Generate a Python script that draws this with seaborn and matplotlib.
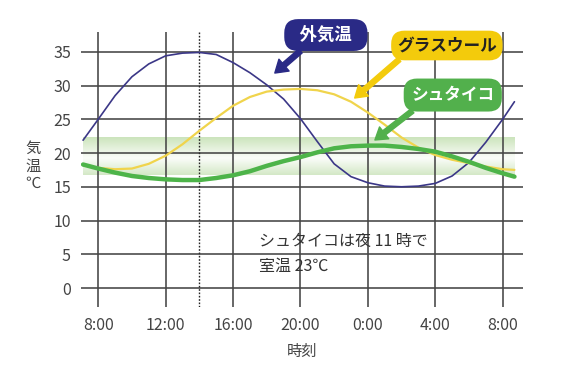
import numpy as np
import pandas as pd
import matplotlib.pyplot as plt
import seaborn as sns

# hours since 0:00 of day 1 (24 = midnight)
hours = [7.1, 8, 9, 10, 11, 12, 13, 14, 15, 16, 17, 18, 19, 20,
         21, 22, 23, 24, 25, 26, 27, 28, 29, 30, 31, 32, 32.7]

outdoor = [21.9, 25.0, 28.5, 31.3, 33.2, 34.4, 34.8, 34.9, 34.6, 33.4, 31.9, 30.1, 28.0, 25.1,
           21.7, 18.4, 16.5, 15.6, 15.1, 15.0, 15.1, 15.5, 16.6, 18.6, 21.6, 25.0, 27.6]
glasswool = [18.2, 17.8, 17.6, 17.7, 18.4, 19.6, 21.3, 23.3, 25.2, 27.0, 28.3, 29.1, 29.4, 29.5,
             29.3, 28.7, 27.6, 26.0, 24.2, 22.3, 20.8, 19.7, 19.0, 18.5, 18.0, 17.6, 17.5]
shutaiko = [18.3, 17.7, 17.1, 16.6, 16.3, 16.1, 16.0, 16.0, 16.3, 16.7, 17.3, 18.1, 18.8, 19.4,
            20.1, 20.7, 21.0, 21.1, 21.1, 20.9, 20.6, 20.2, 19.5, 18.7, 17.8, 17.0, 16.5]

xticks = [8, 12, 16, 20, 24, 28, 32]
xticklabels = ['8:00', '12:00', '16:00', '20:00', '0:00', '4:00', '8:00']
yticks = [0, 5, 10, 15, 20, 25, 30, 35]

comfort_low, comfort_high = 16.7, 22.3   # green band
marker_hour = 14                          # dotted line

navy = '#3b3787'
yellow = '#f0d44c'
green = '#4db449'

sns.set_theme(style='white')
plt.rcParams['font.family'] = ['Noto Sans CJK JP', 'DejaVu Sans']

fig = plt.figure(figsize=(5.64, 3.77), dpi=100)
ax = fig.add_axes([80.7 / 564, 70 / 377, 442 / 564, 275 / 377])

# gradient band: greener at top and bottom edges, pale in between
prof = np.concatenate([np.linspace(0.38, 0.04, 45), np.linspace(0.04, 0.45, 55)])  # bottom -> top
rgba = np.zeros((len(prof), 1, 4))
rgba[:, 0, :3] = np.array([140, 195, 105]) / 255
rgba[:, 0, 3] = prof
ax.imshow(rgba, extent=[hours[0], hours[-1], comfort_low, comfort_high],
          origin='lower', aspect='auto', zorder=0.2, interpolation='bilinear')

sns.lineplot(x=hours, y=outdoor, color=navy, lw=1.2, ax=ax, zorder=3)
sns.lineplot(x=hours, y=glasswool, color=yellow, lw=1.6, ax=ax, zorder=3)
sns.lineplot(x=hours, y=shutaiko, color=green, lw=3.2, ax=ax, zorder=4)

ax.axvline(marker_hour, color='#222222', ls=(0, (1.2, 1.2)), lw=1.0, zorder=2)

ax.set_xlim(6.96, 33.19)
ax.set_ylim(-2.81, 37.93)
ax.set_xticks(xticks)
ax.set_xticklabels(xticklabels)
ax.set_yticks(yticks)
ax.grid(True, color='#454545', lw=1.15)
ax.set_axisbelow(True)
for s in ax.spines.values():
    s.set_visible(False)
ax.tick_params(length=0, labelsize=11.5, colors='#444444')
ax.tick_params(axis='x', pad=7)
ax.tick_params(axis='y', pad=7)
ax.set_xlabel('時刻', fontsize=11, color='#444444', labelpad=7)
ax.set_ylabel('')

fig.text(33 / 564, 1 - 166 / 377, '気\n温\n℃', ha='center', va='center',
         fontsize=11, color='#444444', linespacing=1.05)

ax.text(17.54, 6.86, 'シュタイコは夜 11 時で', fontsize=11.5, color='#333333', va='center')
ax.text(17.54, 3.16, '室温 23℃', fontsize=11.5, color='#333333', va='center')

arrow = 'simple,head_width=0.9,head_length=0.7,tail_width=0.3'
ax.annotate('\u2002外気温\u2002', xy=(18.48, 31.85), xytext=(21.51, 37.48),
            ha='center', va='center', fontsize=12.5, fontweight='bold', color='white',
            bbox=dict(boxstyle='round,pad=0.4,rounding_size=0.8', fc='#2a2a86', ec='none'),
            arrowprops=dict(arrowstyle=arrow, color='#2a2a86', relpos=(0.25, 0), shrinkA=0, shrinkB=0),
            annotation_clip=False, zorder=6)
ax.annotate('グラスウール', xy=(23.22, 28.15), xytext=(28.69, 35.93),
            ha='center', va='center', fontsize=12, fontweight='bold', color='#222222',
            bbox=dict(boxstyle='round,pad=0.35,rounding_size=0.8', fc='#f3cb0c', ec='none'),
            arrowprops=dict(arrowstyle=arrow, color='#f3cb0c', relpos=(0.08, 0), shrinkA=0, shrinkB=0),
            annotation_clip=False, zorder=6)
ax.annotate('シュタイコ', xy=(24.42, 21.93), xytext=(29.04, 28.59),
            ha='center', va='center', fontsize=12, fontweight='bold', color='white',
            bbox=dict(boxstyle='round,pad=0.45,rounding_size=0.8', fc='#52b04c', ec='none'),
            arrowprops=dict(arrowstyle=arrow, color='#52b04c', relpos=(0.12, 0), shrinkA=0, shrinkB=0),
            annotation_clip=False, zorder=6)

fig.savefig('out.png', dpi=100, facecolor='white')
